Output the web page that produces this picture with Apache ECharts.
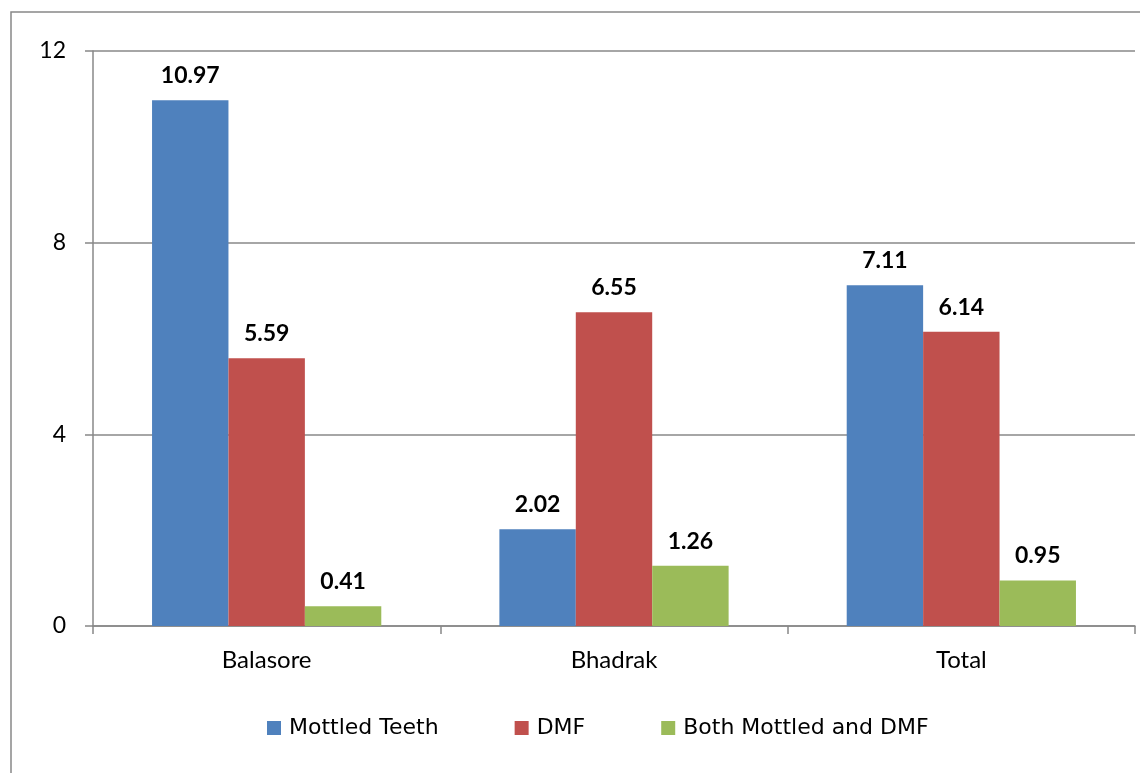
<!DOCTYPE html>
<html>
<head>
<meta charset="utf-8">
<script src="https://cdn.jsdelivr.net/npm/echarts@6/dist/echarts.min.js"></script>
<style>
html,body{margin:0;padding:0;background:#fff;}
#chart{width:1140px;height:773px;}
</style>
</head>
<body>
<div id="chart"></div>
<script>
// Districts on the x axis
const categories = ['Balasore', 'Bhadrak', 'Total'];
// Percentages per district
const mottledTeeth = [10.97, 2.02, 7.11];
const dmf = [5.59, 6.55, 6.14];
const bothMottledDmf = [0.41, 1.26, 0.95];
const seriesNames = ['Mottled Teeth', 'DMF', 'Both Mottled and DMF'];
const yTicks = [0, 4, 8, 12];

const FONT = 'Lato, "Noto Sans", sans-serif';
const LEGEND_FONT = '"DejaVu Sans", "Noto Sans", sans-serif';
const colors = ['#4F81BD', '#C0504D', '#9BBB59'];

const chart = echarts.init(document.getElementById('chart'), null, { renderer: 'canvas' });

function barSeries(name, data, color) {
  return {
    name: name,
    type: 'bar',
    data: data,
    barGap: '0%',
    barCategoryGap: '34%',
    itemStyle: { color: color },
    label: {
      show: true,
      position: 'top',
      distance: 13,
      color: '#000',
      fontFamily: FONT,
      fontWeight: 'bold',
      fontSize: 23,
      formatter: p => p.value.toFixed(2)
    }
  };
}

chart.setOption({
  animation: false,
  color: colors,
  textStyle: { fontFamily: FONT },
  graphic: [{
    type: 'rect',
    shape: { x: 11, y: 12, width: 1200, height: 800 },
    style: { fill: 'none', stroke: '#888', lineWidth: 1.5 },
    silent: true,
    z: -1
  }],
  grid: { left: 93, right: 5, top: 51, bottom: 147, containLabel: false },
  legend: {
    data: seriesNames,
    left: 262,
    top: 712,
    icon: 'rect',
    itemWidth: 14,
    itemHeight: 14,
    itemGap: 76,
    textStyle: { fontFamily: LEGEND_FONT, fontSize: 22, color: '#000', padding: [0, 0, 0, 3] }
  },
  xAxis: {
    type: 'category',
    data: categories,
    axisLine: { lineStyle: { color: '#888', width: 1.5 } },
    axisTick: { show: true, length: 8, lineStyle: { color: '#888', width: 1.5 } },
    axisLabel: { color: '#000', fontSize: 24, fontFamily: FONT, margin: 22 }
  },
  yAxis: {
    type: 'value',
    min: yTicks[0],
    max: yTicks[yTicks.length - 1],
    interval: 4,
    axisLine: { show: true, lineStyle: { color: '#888', width: 1.5 } },
    axisTick: { show: true, length: 8, lineStyle: { color: '#888', width: 1.5 } },
    axisLabel: { color: '#000', fontSize: 23, fontFamily: FONT, margin: 27 },
    splitLine: { lineStyle: { color: '#888', width: 1.5 } }
  },
  series: [
    barSeries(seriesNames[0], mottledTeeth, colors[0]),
    barSeries(seriesNames[1], dmf, colors[1]),
    barSeries(seriesNames[2], bothMottledDmf, colors[2])
  ]
});
</script>
</body>
</html>
